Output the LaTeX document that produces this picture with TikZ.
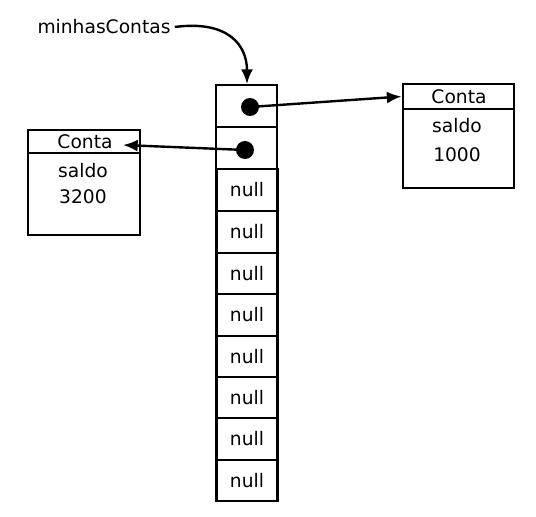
\documentclass[tikz,border=0pt]{standalone}
\usepackage{fontspec}
\setmainfont{DejaVu Sans}
\usetikzlibrary{arrows.meta}
\begin{document}
\begin{tikzpicture}[x=0.75pt,y=-0.75pt,
  every node/.style={font=\fontsize{14pt}{16pt}\selectfont},
  box/.style={draw,line width=2.2pt,inner sep=0pt},
  cell/.style={box,minimum width=61*0.75pt},
  txt/.style={inner sep=0pt},
  dot/.style={circle,fill=black,inner sep=0pt,minimum size=18*0.75pt},
  arr/.style={line width=1.8pt,-{Latex[length=11pt,width=9pt]}}]
\useasboundingbox (0,0) rectangle (536,517);
% array
\node[cell,minimum height=42*0.75pt] (c1) at (246.5,106) {};
\node[cell,minimum height=42*0.75pt] (c2) at (246.5,148) {};
\node[cell,minimum height=42*0.75pt] (n1) at (247,190) {null};
\node[cell,minimum height=42*0.75pt] (n2) at (247,232) {null};
\node[cell,minimum height=41*0.75pt] (n3) at (247,273.5) {null};
\node[cell,minimum height=42*0.75pt] (n4) at (247,315) {null};
\node[cell,minimum height=41*0.75pt] (n5) at (247,356.5) {null};
\node[cell,minimum height=41*0.75pt] (n6) at (247,397.5) {null};
\node[cell,minimum height=42*0.75pt] (n7) at (247,439) {null};
\node[cell,minimum height=41*0.75pt] (n8) at (247,480.5) {null};
\node[dot] (d1) at (250,107) {};
\node[dot] (d2) at (245,150) {};
% left Conta
\node[box,minimum width=112*0.75pt,minimum height=23*0.75pt] (lh) at (84,141.5) {};
\node[box,minimum width=112*0.75pt,minimum height=82*0.75pt] (lb) at (84,194) {};
\node[txt] (lht) at (85,142) {Conta};
\node[txt] (lbs) at (83,171) {saldo};
\node[txt] (lbv) at (83,197) {3200};
% right Conta
\node[box,minimum width=111*0.75pt,minimum height=25*0.75pt] (rh) at (458.5,96.5) {};
\node[box,minimum width=111*0.75pt,minimum height=79*0.75pt] (rb) at (458.5,148.5) {};
\node[txt] (rht) at (459,97) {Conta};
\node[txt] (rbs) at (457,126) {saldo};
\node[txt] (rbv) at (457,155) {1000};
% label
\node[txt] (lbl) at (104,27) {minhasContas};
\coordinate (lt) at (123,145);
\coordinate (ct) at (247,84);
% arrows
\draw[arr] (d1.center) -- (rh.west);
\draw[arr] (d2.center) -- (lt);
\draw[arr] (lbl.east) ++(4,0) .. controls (228,20) and (247,45) .. (ct);
\end{tikzpicture}
\end{document}
